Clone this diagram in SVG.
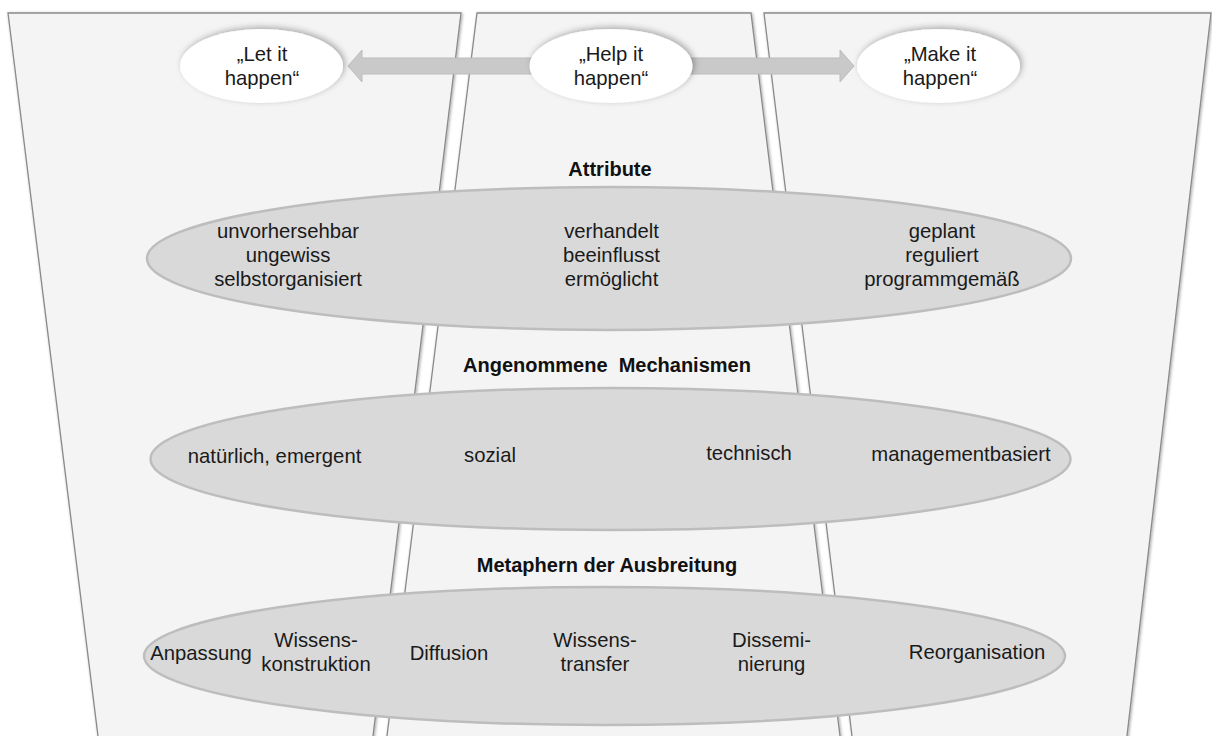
<svg xmlns="http://www.w3.org/2000/svg" width="1212" height="736" viewBox="0 0 1212 736">
<defs>
<filter id="panelShadow" x="-5%" y="-5%" width="110%" height="110%">
<feDropShadow dx="1" dy="1" stdDeviation="1.5" flood-color="#000" flood-opacity="0.35"/>
</filter>
<filter id="ovalShadow" x="-20%" y="-30%" width="140%" height="160%">
<feDropShadow dx="2" dy="-2" stdDeviation="3" flood-color="#000" flood-opacity="0.3"/>
</filter>
<style>
.panel{fill:#f4f4f4;stroke:#8a8a8a;stroke-width:1.3;filter:url(#panelShadow)}
.oval{fill:#ffffff;filter:url(#ovalShadow)}
.band{fill:#d9d9d9;stroke:#bdbdbd;stroke-width:2.5}
.t{font-family:"Liberation Sans",Arial,sans-serif;font-size:20.3px;fill:#1a1a1a;text-anchor:middle}
.h{font-family:"Liberation Sans",Arial,sans-serif;font-size:20px;font-weight:bold;fill:#111;text-anchor:middle}
.arrow{fill:#c9c9c9;stroke:#bcbcbc;stroke-width:1}
</style>
</defs>
<rect width="1212" height="736" fill="#ffffff"/>
<g id="panel-left"><polygon class="panel" points="8,13 461,13 372.5,740 98.5,740"/></g>
<g id="panel-middle"><polygon class="panel" points="477,13 751,13 840.5,740 386.5,740"/></g>
<g id="panel-right"><polygon class="panel" points="764,13 1211,13 1126.5,740 852.5,740"/></g>
<g id="connectors">
<polygon class="arrow" points="348,66 362,50 362,58 840,58 840,50 854,66 840,82 840,74 362,74 362,82"/>
</g>
<g id="node-let">
<ellipse class="oval" cx="261.5" cy="66" rx="81.5" ry="37"/>
<text class="t" x="262" y="61">„Let it</text>
<text class="t" x="262" y="85">happen“</text>
</g>
<g id="node-help">
<ellipse class="oval" cx="611" cy="66" rx="81.5" ry="37"/>
<text class="t" x="611" y="61">„Help it</text>
<text class="t" x="611" y="85">happen“</text>
</g>
<g id="node-make">
<ellipse class="oval" cx="938.5" cy="66" rx="81.5" ry="37"/>
<text class="t" x="940" y="61">„Make it</text>
<text class="t" x="940" y="85">happen“</text>
</g>
<text class="h" x="610" y="176">Attribute</text>
<g id="node-attribute">
<ellipse class="band" cx="609" cy="258.5" rx="462" ry="71.5"/>
<text class="t" x="288" y="238">unvorhersehbar</text>
<text class="t" x="288" y="262">ungewiss</text>
<text class="t" x="288" y="286">selbstorganisiert</text>
<text class="t" x="611.5" y="238">verhandelt</text>
<text class="t" x="611.5" y="262">beeinflusst</text>
<text class="t" x="611.5" y="286">ermöglicht</text>
<text class="t" x="942" y="238">geplant</text>
<text class="t" x="942" y="262">reguliert</text>
<text class="t" x="942" y="286">programmgemäß</text>
</g>
<text class="h" x="607" y="372" xml:space="preserve">Angenommene  Mechanismen</text>
<g id="node-mechanismen">
<ellipse class="band" cx="610.5" cy="459" rx="460" ry="71"/>
<text class="t" x="274.5" y="463">natürlich, emergent</text>
<text class="t" x="490" y="462">sozial</text>
<text class="t" x="749" y="460">technisch</text>
<text class="t" x="961" y="461">managementbasiert</text>
</g>
<text class="h" x="607" y="572">Metaphern der Ausbreitung</text>
<g id="node-metaphern">
<ellipse class="band" cx="604.5" cy="656" rx="460.5" ry="69"/>
<text class="t" x="201" y="660">Anpassung</text>
<text class="t" x="316" y="647">Wissens-</text>
<text class="t" x="316" y="671">konstruktion</text>
<text class="t" x="449" y="660">Diffusion</text>
<text class="t" x="595" y="647">Wissens-</text>
<text class="t" x="595" y="671">transfer</text>
<text class="t" x="771.5" y="647">Dissemi-</text>
<text class="t" x="771.5" y="671">nierung</text>
<text class="t" x="977" y="659">Reorganisation</text>
</g>
</svg>
